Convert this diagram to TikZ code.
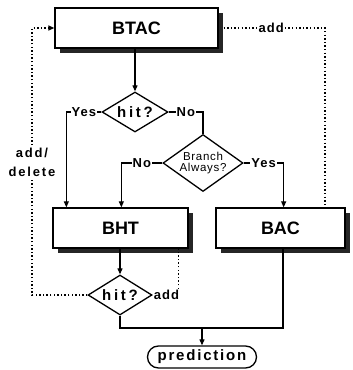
\documentclass[tikz,border=0pt]{standalone}
\usepackage{fontspec}
\setmainfont{Liberation Sans}
\usetikzlibrary{shapes.geometric,arrows.meta,shadows,calc}
\begin{document}
\begin{tikzpicture}[x=1pt,y=-1pt,
  box/.style={draw, line width=1.3pt, fill=white, minimum height=40pt, inner sep=0pt,
    font=\fontsize{18}{18}\selectfont\bfseries,
    drop shadow={shadow xshift=5pt, shadow yshift=-5pt, fill=black!85, opacity=1}},
  dia/.style={diamond, draw, line width=1.3pt, fill=white, inner sep=0pt},
  hitfont/.style={font=\fontsize{15}{15}\selectfont\bfseries\addfontfeature{LetterSpace=18}},
  lab/.style={fill=white, inner sep=1pt, font=\fontsize{13}{13}\selectfont\bfseries\addfontfeature{LetterSpace=8}},
  ln/.style={line width=1.1pt},
  tip/.style={-{Triangle[length=6pt,width=5pt]}},
  arr/.style={ln, tip},
  dots/.style={line width=1.4pt, dash pattern=on 1.4pt off 2.2pt},
]
\useasboundingbox (0,0) rectangle (353,370);

% nodes
\node[box, minimum width=163pt] (btac) at (136.5,28) {BTAC};
\node[dia, hitfont, aspect=1.65, minimum width=66pt, minimum height=40pt] (d1) at (135,112) {hit?};
\node[dia, aspect=1.4, minimum width=80pt, minimum height=57pt, align=center,
      font=\fontsize{11.5}{10.5}\selectfont\addfontfeature{LetterSpace=6}] (d2) at (203,163) {Branch\\Always?};
\node[box, minimum width=135pt] (bht) at (120.5,228) {BHT};
\node[box, minimum width=129pt] (bac) at (280.5,228) {BAC};
\node[dia, hitfont, aspect=1.6, minimum width=64pt, minimum height=40pt] (d3) at (120,295) {hit?};
\node[draw, line width=1.3pt, rounded corners=11pt, minimum width=109pt, minimum height=22pt, inner sep=0pt,
      font=\fontsize{15}{15}\selectfont\bfseries\addfontfeature{LetterSpace=12}] (pred) at (202,357) {prediction};

% solid connectors
\draw[arr] (btac.south -| d1.north) -- (d1.north);
\draw[arr] (d1.west) -| node[lab,pos=0.25]{Yes} ([xshift=14pt]bht.north west);
\draw[ln] (d1.east) -| node[lab,pos=0.25]{No} (d2.north);
\draw[arr] (d2.west) -| node[lab,pos=0.25]{No} ([xshift=69pt]bht.north west);
\draw[arr] (d2.east) -| node[lab,pos=0.25]{Yes} ([xshift=-62pt]bac.north east);
\draw[arr] (bht.south -| d3.north) -- (d3.north);
\coordinate (m) at (202,328);
\draw[ln] (d3.south) |- (m) -| ([xshift=2.5pt]bac.south);
\draw[arr] (m) -- (pred.north);

% dotted connectors
\coordinate (tl) at (32,28);
\draw[dots, tip] (d3.west) -| (tl) -- (btac.west);
\node[lab, align=center, inner sep=2pt, font=\fontsize{13}{19}\selectfont\bfseries\addfontfeature{LetterSpace=14}] (ad) at (32,162) {add/\\delete};
\coordinate (tr) at (325,28);
\draw[dots] ([xshift=5pt]btac.east) -- node[lab, pos=0.47]{add} (tr) -- (tr |- bac.north);
\node[lab, anchor=west] (addl) at (d3.east) {add};
\draw[dots] ([xshift=-2pt]addl.north east) -- ([xshift=-2pt]addl.north east |- bht.south);
\end{tikzpicture}
\end{document}
